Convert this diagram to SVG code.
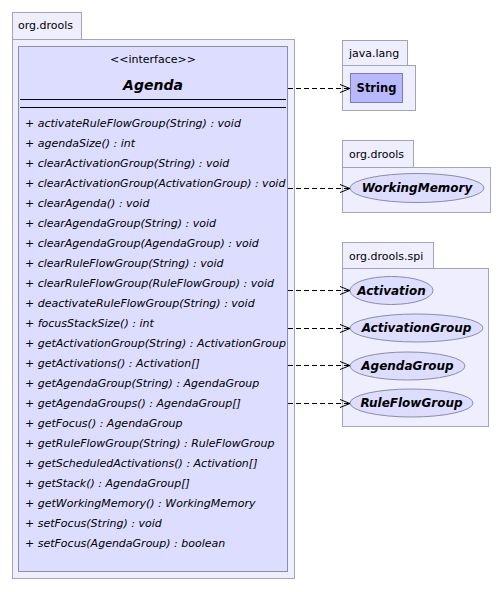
<svg xmlns="http://www.w3.org/2000/svg" width="502" height="592" viewBox="0 0 502 592">
<defs>
<style>
.pkg{fill:#eeeeff;stroke:#a4a4b8;stroke-width:1}
.cls{fill:#ddddff;stroke:#8c8ca4;stroke-width:1}
.ell{fill:#ddddff;stroke:#8c8ca4;stroke-width:1}
.str{fill:#b8b8ff;stroke:#7c7cb0;stroke-width:1}
.t{font-family:"DejaVu Sans",sans-serif;font-size:11px;fill:#000}
.m{font-family:"DejaVu Sans",sans-serif;font-size:11px;font-style:italic;fill:#000}
.ti{font-family:"DejaVu Sans",sans-serif;font-size:14px;font-style:italic;font-weight:bold;fill:#000}
.bi{font-family:"DejaVu Sans",sans-serif;font-size:12px;font-style:italic;font-weight:bold;fill:#000}
.b{font-family:"DejaVu Sans",sans-serif;font-size:11.5px;font-weight:bold;fill:#000}
.dep{fill:none;stroke:#000;stroke-width:1;stroke-dasharray:5,3}
.sep{stroke:#000;stroke-width:1}
</style>
<marker id="arr" markerWidth="12" markerHeight="10" refX="11" refY="5" orient="auto" markerUnits="userSpaceOnUse">
<polyline points="1,1 11,5 1,9" fill="none" stroke="#000" stroke-width="1"/>
</marker>
</defs>

<g id="pkg-org-drools-main">
<rect class="pkg" x="12.5" y="12.5" width="69" height="27"/>
<rect class="pkg" x="12.5" y="39.5" width="282" height="539"/>
<text class="t" x="18" y="29">org.drools</text>
</g>

<g id="Agenda">
<rect class="cls" x="18.5" y="46.5" width="269" height="525"/>
<text class="t" x="153" y="63" text-anchor="middle">&lt;&lt;interface&gt;&gt;</text>
<text class="ti" x="153" y="90" text-anchor="middle">Agenda</text>
<line class="sep" x1="20" y1="99.5" x2="286" y2="99.5"/>
<line class="sep" x1="20" y1="107.5" x2="286" y2="107.5"/>
<text class="m" x="25" y="127">+ activateRuleFlowGroup(String) : void</text>
<text class="m" x="25" y="147">+ agendaSize() : int</text>
<text class="m" x="25" y="167">+ clearActivationGroup(String) : void</text>
<text class="m" x="25" y="187">+ clearActivationGroup(ActivationGroup) : void</text>
<text class="m" x="25" y="207">+ clearAgenda() : void</text>
<text class="m" x="25" y="227">+ clearAgendaGroup(String) : void</text>
<text class="m" x="25" y="247">+ clearAgendaGroup(AgendaGroup) : void</text>
<text class="m" x="25" y="267">+ clearRuleFlowGroup(String) : void</text>
<text class="m" x="25" y="287">+ clearRuleFlowGroup(RuleFlowGroup) : void</text>
<text class="m" x="25" y="307">+ deactivateRuleFlowGroup(String) : void</text>
<text class="m" x="25" y="327">+ focusStackSize() : int</text>
<text class="m" x="25" y="347">+ getActivationGroup(String) : ActivationGroup</text>
<text class="m" x="25" y="367">+ getActivations() : Activation[]</text>
<text class="m" x="25" y="387">+ getAgendaGroup(String) : AgendaGroup</text>
<text class="m" x="25" y="407">+ getAgendaGroups() : AgendaGroup[]</text>
<text class="m" x="25" y="427">+ getFocus() : AgendaGroup</text>
<text class="m" x="25" y="447">+ getRuleFlowGroup(String) : RuleFlowGroup</text>
<text class="m" x="25" y="467">+ getScheduledActivations() : Activation[]</text>
<text class="m" x="25" y="487">+ getStack() : AgendaGroup[]</text>
<text class="m" x="25" y="507">+ getWorkingMemory() : WorkingMemory</text>
<text class="m" x="25" y="527">+ setFocus(String) : void</text>
<text class="m" x="25" y="547">+ setFocus(AgendaGroup) : boolean</text>
</g>

<g id="pkg-java-lang">
<rect class="pkg" x="342.5" y="40.5" width="65" height="25"/>
<rect class="pkg" x="342.5" y="65.5" width="73" height="45"/>
<text class="t" x="349" y="57">java.lang</text>
</g>
<g id="String">
<rect class="str" x="350.5" y="73.5" width="52" height="29"/>
<text class="b" x="376.5" y="92" text-anchor="middle">String</text>
</g>

<g id="pkg-org-drools">
<rect class="pkg" x="342.5" y="140.5" width="71" height="27"/>
<rect class="pkg" x="342.5" y="167.5" width="148" height="45"/>
<text class="t" x="349" y="158">org.drools</text>
</g>
<g id="WorkingMemory">
<ellipse class="ell" cx="417" cy="188" rx="67" ry="14.5"/>
<text class="bi" x="417" y="192" text-anchor="middle">WorkingMemory</text>
</g>

<g id="pkg-org-drools-spi">
<rect class="pkg" x="342.5" y="242.5" width="91" height="26"/>
<rect class="pkg" x="342.5" y="268.5" width="146" height="158"/>
<text class="t" x="349" y="260">org.drools.spi</text>
</g>
<g id="Activation">
<ellipse class="ell" cx="391.5" cy="290.5" rx="41.5" ry="14"/>
<text class="bi" x="391.5" y="294.5" text-anchor="middle">Activation</text>
</g>
<g id="ActivationGroup">
<ellipse class="ell" cx="416.5" cy="328" rx="66.5" ry="14"/>
<text class="bi" x="416.5" y="332" text-anchor="middle">ActivationGroup</text>
</g>
<g id="AgendaGroup">
<ellipse class="ell" cx="407.5" cy="366" rx="57.5" ry="14"/>
<text class="bi" x="407.5" y="370" text-anchor="middle">AgendaGroup</text>
</g>
<g id="RuleFlowGroup">
<ellipse class="ell" cx="411.5" cy="403" rx="61.5" ry="14"/>
<text class="bi" x="411.5" y="407" text-anchor="middle">RuleFlowGroup</text>
</g>

<g id="connectors">
<line class="dep" x1="288" y1="88.5" x2="350" y2="88.5" marker-end="url(#arr)"/>
<line class="dep" x1="288" y1="188.5" x2="350" y2="188.5" marker-end="url(#arr)"/>
<line class="dep" x1="288" y1="290.5" x2="350" y2="290.5" marker-end="url(#arr)"/>
<line class="dep" x1="288" y1="328.5" x2="350" y2="328.5" marker-end="url(#arr)"/>
<line class="dep" x1="288" y1="365.5" x2="350" y2="365.5" marker-end="url(#arr)"/>
<line class="dep" x1="288" y1="403.5" x2="350" y2="403.5" marker-end="url(#arr)"/>
</g>
</svg>
